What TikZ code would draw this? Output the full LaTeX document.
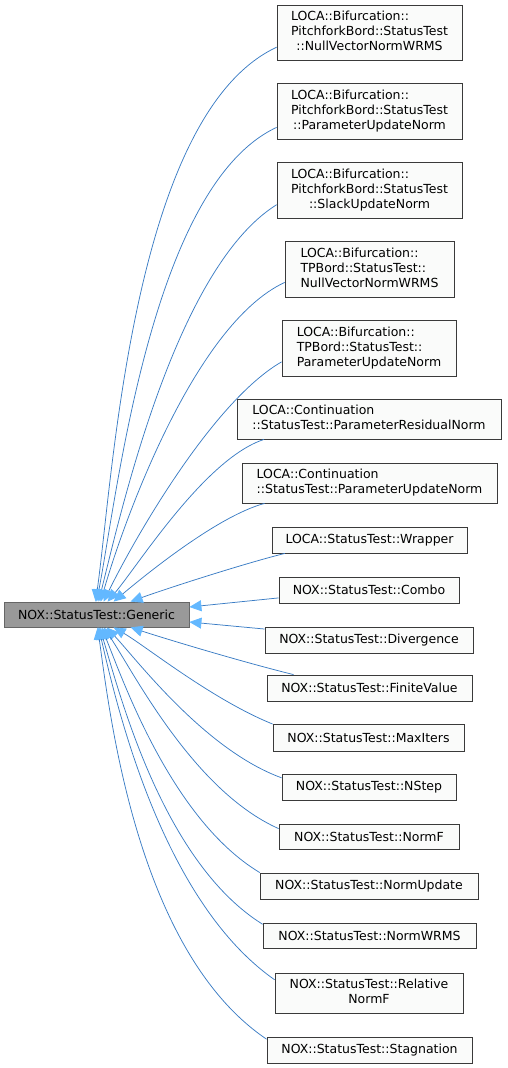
\documentclass[tikz,border=0pt]{standalone}
\usepackage{fontspec}
\setmainfont{DejaVu Sans}
\usepackage{xcolor}
\usetikzlibrary{arrows.meta}
\definecolor{Edge}{HTML}{3A7CC4}
\definecolor{Sky}{HTML}{63B8FF}
\definecolor{Paper}{HTML}{FAFBFA}
\definecolor{Frame}{HTML}{3A3A3A}
\definecolor{Base}{HTML}{999999}
\definecolor{BaseFrame}{HTML}{666666}
\newcommand{\lastln}[1]{\multicolumn{1}{@{}c@{}}{#1}}

\begin{document}
\begin{tikzpicture}[x=1pt, y=1pt,
  kid/.style={draw=Frame, fill=Paper, line width=0.8pt, inner sep=0pt,
    font=\fontsize{12.5}{15}\selectfont},
  base/.style={kid, draw=BaseFrame, fill=Base},
  inh/.style={Edge, line width=0.75pt,
    -{Triangle[length=12pt,width=11pt,color=Sky,fill=Sky]}},
  upper/.style={inh, out looseness=0.7, in looseness=0.55},
  lower/.style={inh, out looseness=0.9, in looseness=0.5}]
        \useasboundingbox (0,0) rectangle (507,-1068);
        % base class
        \node[base, minimum width=185pt, minimum height=25pt] (gen) at (96.5,-614.5) {NOX::StatusTest::Generic};
        % derived classes
        \node[kid, minimum width=185pt, minimum height=55pt] (pfNull) at (369.5,-32.5)
          {\begin{tabular}{@{}l@{}}LOCA::Bifurcation::\\PitchforkBord::StatusTest\\\lastln{::NullVectorNormWRMS}\end{tabular}};
        \node[kid, minimum width=185pt, minimum height=56pt] (pfParam) at (369.5,-111)
          {\begin{tabular}{@{}l@{}}LOCA::Bifurcation::\\PitchforkBord::StatusTest\\\lastln{::ParameterUpdateNorm}\end{tabular}};
        \node[kid, minimum width=185pt, minimum height=56pt] (pfSlack) at (369.5,-190)
          {\begin{tabular}{@{}l@{}}LOCA::Bifurcation::\\PitchforkBord::StatusTest\\\lastln{::SlackUpdateNorm}\end{tabular}};
        \node[kid, minimum width=169pt, minimum height=56pt] (tpNull) at (369.5,-269)
          {\begin{tabular}{@{}l@{}}LOCA::Bifurcation::\\TPBord::StatusTest::\\\lastln{NullVectorNormWRMS}\end{tabular}};
        \node[kid, minimum width=174pt, minimum height=56pt] (tpParam) at (369,-348)
          {\begin{tabular}{@{}l@{}}LOCA::Bifurcation::\\TPBord::StatusTest::\\\lastln{ParameterUpdateNorm}\end{tabular}};
        \node[kid, minimum width=264pt, minimum height=40pt] (ctResid) at (369,-419)
          {\begin{tabular}{@{}l@{}}LOCA::Continuation\\\lastln{::StatusTest::ParameterResidualNorm}\end{tabular}};
        \node[kid, minimum width=255pt, minimum height=40pt] (ctParam) at (369.5,-483)
          {\begin{tabular}{@{}l@{}}LOCA::Continuation\\\lastln{::StatusTest::ParameterUpdateNorm}\end{tabular}};
        \node[kid, minimum width=195pt, minimum height=26pt] (wrapper) at (369.5,-540) {LOCA::StatusTest::Wrapper};
        \node[kid, minimum width=180pt, minimum height=26pt] (combo) at (369,-590) {NOX::StatusTest::Combo};
        \node[kid, minimum width=208pt, minimum height=26pt] (diverg) at (369,-640) {NOX::StatusTest::Divergence};
        \node[kid, minimum width=205pt, minimum height=26pt] (finite) at (369.5,-688) {NOX::StatusTest::FiniteValue};
        \node[kid, minimum width=191pt, minimum height=27pt] (maxIters) at (368.5,-737.5) {NOX::StatusTest::MaxIters};
        \node[kid, minimum width=174pt, minimum height=26pt] (nstep) at (369,-787) {NOX::StatusTest::NStep};
        \node[kid, minimum width=180pt, minimum height=25pt] (normF) at (369,-836.5) {NOX::StatusTest::NormF};
        \node[kid, minimum width=218pt, minimum height=26pt] (normUpd) at (369,-886) {NOX::StatusTest::NormUpdate};
        \node[kid, minimum width=213pt, minimum height=25pt] (normWrms) at (369.5,-935.5) {NOX::StatusTest::NormWRMS};
        \node[kid, minimum width=188pt, minimum height=40pt] (relative) at (369,-993)
          {\begin{tabular}{@{}l@{}}NOX::StatusTest::Relative\\\lastln{NormF}\end{tabular}};
        \node[kid, minimum width=205pt, minimum height=26pt] (stagn) at (369.5,-1050) {NOX::StatusTest::Stagnation};
        % inheritance edges
        \draw[upper] (pfNull.189) to[out=205,in=82] ([xshift=92pt]gen.north west);
        \draw[upper] (pfParam.190) to[out=205,in=79] ([xshift=93pt]gen.north west);
        \draw[upper] (pfSlack.189) to[out=212,in=76] ([xshift=95pt]gen.north west);
        \draw[upper] (tpNull.189) to[out=205,in=74] ([xshift=97pt]gen.north west);
        \draw[upper] (tpParam.189) to[out=210,in=64] ([xshift=100pt]gen.north west);
        \draw[upper] (ctResid.191) to[out=198,in=50] ([xshift=104pt]gen.north west);
        \draw[upper] (ctParam.191) to[out=195,in=40] ([xshift=110pt]gen.north west);
        \draw[upper] (wrapper.189) to[out=194,in=20] ([xshift=127pt]gen.north west);
        \draw[inh] (combo.185) -- ([yshift=7.5pt]gen.east);
        \draw[inh] (diverg.174) -- ([yshift=-7.5pt]gen.east);
        \draw[lower] (finite.170) to[out=166,in=-18] ([xshift=127pt]gen.south west);
        \draw[lower] (maxIters.172) to[out=158,in=-30] ([xshift=110pt]gen.south west);
        \draw[lower] (nstep.174) to[out=160,in=-47] ([xshift=103pt]gen.south west);
        \draw[lower] (normF.175) to[out=156,in=-56] ([xshift=100pt]gen.south west);
        \draw[lower] (normUpd.173) to[out=149,in=-68] ([xshift=98pt]gen.south west);
        \draw[lower] (normWrms.174) to[out=148,in=-73] ([xshift=96pt]gen.south west);
        \draw[lower] (relative.172) to[out=145,in=-77] ([xshift=95pt]gen.south west);
        \draw[lower] (stagn.174) to[out=146,in=-82] ([xshift=94pt]gen.south west);
      \end{tikzpicture}
\end{document}
